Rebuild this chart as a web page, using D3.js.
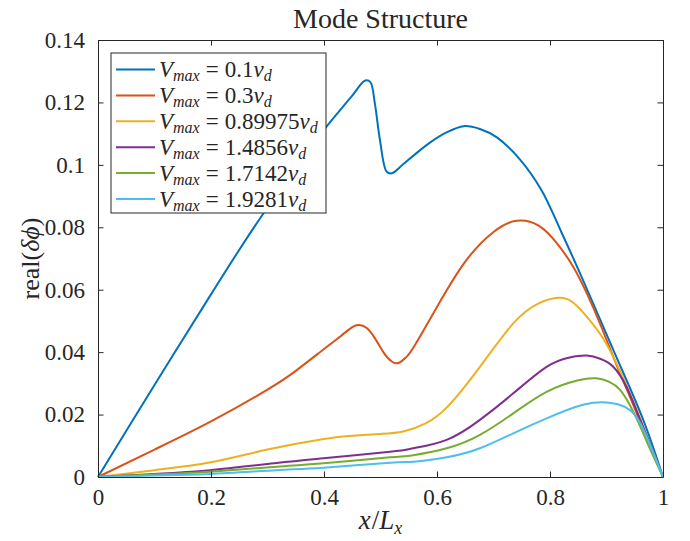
<!DOCTYPE html>
<head>
	<meta charset="utf-8">
	<script src="https://d3js.org/d3.v7.min.js"></script>
	<style>
		body { margin: 0; background: #fff; }
		svg text { font-family: 'Liberation Serif', 'Times New Roman', serif; fill: #262626; }
	</style>
</head>
<body>
<svg width="690" height="541"></svg>
<script>
	// values
	var vmaxLabels = ['0.1', '0.3', '0.89975', '1.4856', '1.7142', '1.9281'];
	var colors = ['#0072BD', '#D95319', '#EDB120', '#7E2F8E', '#77AC30', '#4DBEEE'];

	var xBlue = [0, 0.1, 0.2, 0.249, 0.293, 0.35, 0.402, 0.426, 0.45, 0.473, 0.482, 0.490, 0.499, 0.511, 0.520, 0.54, 0.56, 0.588, 0.617, 0.647, 0.676, 0.706, 0.747, 0.785, 0.82, 0.853, 0.912, 0.965, 1];
	var yBlue = [0, 0.0295, 0.0585, 0.0725, 0.0845, 0.099, 0.1117, 0.117, 0.1222, 0.127, 0.1265, 0.1197, 0.108, 0.0978, 0.0973, 0.1002, 0.1032, 0.1072, 0.1104, 0.1124, 0.1115, 0.1088, 0.1017, 0.0919, 0.0785, 0.0653, 0.0407, 0.0183, 0];

	var xRed = [0, 0.1, 0.2, 0.3, 0.35, 0.4, 0.43, 0.45, 0.462, 0.475, 0.49, 0.505, 0.52, 0.533, 0.545, 0.56, 0.6, 0.65, 0.7, 0.741, 0.78, 0.812, 0.84, 0.865, 0.89, 0.912, 0.935, 0.958, 0.975, 1];
	var yRed = [0, 0.0088, 0.0178, 0.028, 0.034, 0.041, 0.0452, 0.048, 0.0487, 0.0478, 0.0445, 0.040, 0.037, 0.0366, 0.0383, 0.042, 0.0545, 0.069, 0.0785, 0.0821, 0.0805, 0.0749, 0.0677, 0.0589, 0.0485, 0.0385, 0.0285, 0.0185, 0.011, 0];

	var xOrange = [0, 0.1, 0.2, 0.3, 0.4, 0.45, 0.5, 0.54, 0.58, 0.62, 0.676, 0.735, 0.78, 0.815, 0.84, 0.865, 0.89, 0.912, 0.935, 0.958, 0.975, 1];
	var yOrange = [0, 0.0022, 0.0047, 0.0088, 0.0122, 0.0132, 0.0138, 0.0146, 0.0172, 0.0228, 0.0353, 0.0492, 0.0556, 0.0574, 0.0560, 0.0514, 0.0455, 0.0385, 0.0295, 0.0195, 0.0115, 0];

	var xPurple = [0, 0.1, 0.198, 0.316, 0.399, 0.517, 0.558, 0.617, 0.676, 0.735, 0.794, 0.835, 0.865, 0.89, 0.912, 0.935, 0.955, 0.975, 1];
	var yPurple = [0, 0.001, 0.0022, 0.0045, 0.0060, 0.0081, 0.0092, 0.0119, 0.0183, 0.0268, 0.0353, 0.0383, 0.0389, 0.0378, 0.0353, 0.029, 0.0204, 0.0115, 0];

	var xGreen = [0, 0.1, 0.198, 0.316, 0.399, 0.517, 0.558, 0.617, 0.676, 0.735, 0.794, 0.85, 0.882, 0.905, 0.924, 0.942, 0.959, 0.975, 1];
	var yGreen = [0, 0.0008, 0.0017, 0.0033, 0.0044, 0.0063, 0.0070, 0.0092, 0.0135, 0.0204, 0.0273, 0.0310, 0.0316, 0.0305, 0.0279, 0.0228, 0.0165, 0.0098, 0];

	var xCyan = [0, 0.1, 0.198, 0.316, 0.399, 0.517, 0.558, 0.617, 0.676, 0.735, 0.794, 0.86, 0.900, 0.92, 0.941, 0.958, 0.971, 0.985, 1];
	var yCyan = [0, 0.0005, 0.0010, 0.0022, 0.0030, 0.0046, 0.0049, 0.0063, 0.0092, 0.0140, 0.0188, 0.0232, 0.0239, 0.0233, 0.0215, 0.0178, 0.0129, 0.0068, 0];

	var xTicks = [0, 0.2, 0.4, 0.6, 0.8, 1];
	var yTicks = [0, 0.02, 0.04, 0.06, 0.08, 0.1, 0.12, 0.14];

	var series = [
		{x: xBlue, y: yBlue},
		{x: xRed, y: yRed},
		{x: xOrange, y: yOrange},
		{x: xPurple, y: yPurple},
		{x: xGreen, y: yGreen},
		{x: xCyan, y: yCyan}
	];

	var pLeft = 98, pRight = 663, pTop = 40, pBottom = 477;
	var svg = d3.select('svg');
	var x = d3.scaleLinear().domain([0, 1]).range([pLeft, pRight]);
	var y = d3.scaleLinear().domain([0, 0.14]).range([pBottom, pTop]);
	var axisColor = '#262626', tickLen = 5.5;

	/* --------- LINES ---------*/

	// blue has a sharp drop, keep it on catmull-rom; the rest are smooth
	var lineSharp = d3.line()
		.x(function (d) { return x(d[0]); })
		.y(function (d) { return y(d[1]); })
		.curve(d3.curveCatmullRom.alpha(0.5));
	var lineSmooth = d3.line()
		.x(function (d) { return x(d[0]); })
		.y(function (d) { return y(d[1]); })
		.curve(d3.curveNatural);

	svg.append('g').selectAll('path')
		.data(series)
		.enter()
		.append('path')
		.attr('fill', 'none')
		.attr('stroke-width', 2)
		.attr('stroke-linejoin', 'round')
		.attr('stroke', function (d, i) { return colors[i]; })
		.attr('d', function (d, i) {
			var pts = d.x.map(function (v, k) { return [v, d.y[k]]; });
			return i === 0 ? lineSharp(pts) : lineSmooth(pts);
		});

	/* --------- AXES (matlab style box, ticks inside) ---------*/

	function fmt(d) { return String(+d.toFixed(2)); }

	svg.append('g').attr('transform', 'translate(0,' + pBottom + ')')
		.call(d3.axisBottom(x).tickValues(xTicks).tickSizeInner(-tickLen).tickSizeOuter(0).tickPadding(12).tickFormat(fmt));
	svg.append('g').attr('transform', 'translate(0,' + pTop + ')')
		.call(d3.axisTop(x).tickValues(xTicks).tickSizeInner(-tickLen).tickSizeOuter(0).tickFormat(''));
	svg.append('g').attr('transform', 'translate(' + pLeft + ',0)')
		.call(d3.axisLeft(y).tickValues(yTicks).tickSizeInner(-tickLen).tickSizeOuter(0).tickPadding(13).tickFormat(fmt));
	svg.append('g').attr('transform', 'translate(' + pRight + ',0)')
		.call(d3.axisRight(y).tickValues(yTicks).tickSizeInner(-tickLen).tickSizeOuter(0).tickFormat(''));

	svg.selectAll('.domain, .tick line').attr('stroke', axisColor).attr('stroke-width', 1);
	svg.selectAll('.tick text').attr('font-size', 23).attr('font-family', null).attr('fill', axisColor);

	/* --------- TITLE & LABELS ---------*/

	svg.append('text')
		.attr('x', (pLeft + pRight) / 2).attr('y', 28)
		.attr('text-anchor', 'middle').attr('font-size', 28)
		.text('Mode Structure');

	var xl = svg.append('text')
		.attr('x', (pLeft + pRight) / 2).attr('y', 529)
		.attr('text-anchor', 'middle').attr('font-size', 27);
	xl.append('tspan').attr('font-style', 'italic').text('x');
	xl.append('tspan').attr('dx', 1).text('/');
	xl.append('tspan').attr('font-style', 'italic').text('L');
	xl.append('tspan').attr('font-style', 'italic').attr('font-size', 18).attr('dy', 5).text('x');

	var yl = svg.append('text')
		.attr('transform', 'translate(39,' + ((pTop + pBottom) / 2) + ') rotate(-90)')
		.attr('text-anchor', 'middle').attr('font-size', 26);
	yl.append('tspan').text('real(');
	yl.append('tspan').attr('font-style', 'italic').text('δϕ');
	yl.append('tspan').text(')');

	/* --------- LEGEND ---------*/

	var legend = svg.append('g');
	legend.append('rect')
		.attr('x', 111).attr('y', 53).attr('width', 215).attr('height', 160)
		.attr('fill', '#fff').attr('stroke', axisColor).attr('stroke-width', 1);

	var rows = legend.selectAll('g.row')
		.data(vmaxLabels)
		.enter()
		.append('g')
		.attr('class', 'row')
		.attr('transform', function (d, i) { return 'translate(0,' + (69.5 + i * 25.9) + ')'; });

	rows.append('line')
		.attr('x1', 116).attr('x2', 155)
		.attr('stroke-width', 2)
		.attr('stroke', function (d, i) { return colors[i]; });

	var lt = rows.append('text')
		.attr('x', 159).attr('y', 7.5).attr('font-size', 23);
	lt.append('tspan').attr('font-style', 'italic').text('V');
	lt.append('tspan').attr('font-style', 'italic').attr('font-size', 16).attr('dy', 4).text('max');
	lt.append('tspan').attr('dy', -4).attr('dx', 6).text('=');
	lt.append('tspan').attr('dx', 6).text(function (d) { return d; });
	lt.append('tspan').attr('font-style', 'italic').text('v');
	lt.append('tspan').attr('font-style', 'italic').attr('font-size', 16).attr('dy', 4).text('d');
</script>
</body>
